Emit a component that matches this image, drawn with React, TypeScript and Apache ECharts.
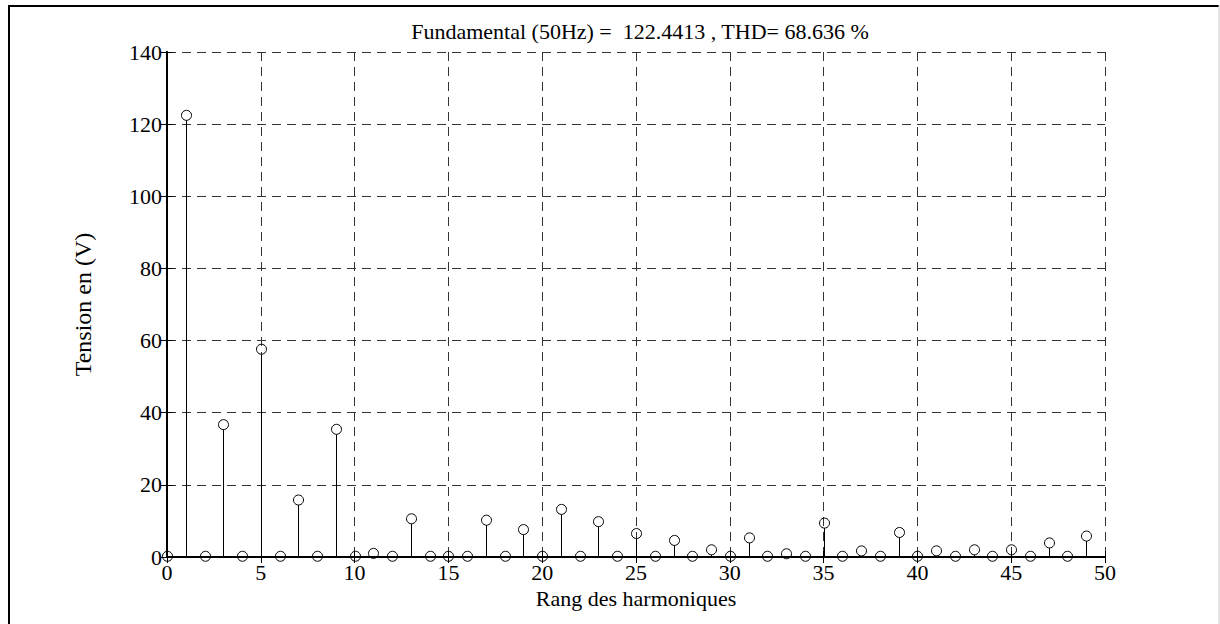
import React, { useEffect, useRef } from "react";
import * as echarts from "echarts";

const harmonicOrders: number[] = Array.from({ length: 50 }, (_, i) => i);
const amplitudes: number[] = [
  0.2, 122.44, 0.2, 36.7, 0.2, 57.6, 0.2, 15.8, 0.2, 35.4,
  0.2, 1.0, 0.2, 10.6, 0.2, 0.2, 0.2, 10.2, 0.2, 7.6,
  0.2, 13.2, 0.2, 9.8, 0.2, 6.5, 0.2, 4.6, 0.2, 2.0,
  0.2, 5.3, 0.2, 0.9, 0.2, 9.4, 0.2, 1.7, 0.2, 6.8,
  0.2, 1.7, 0.2, 2.0, 0.2, 2.0, 0.2, 3.9, 0.2, 5.8,
];
const titleText = "Fundamental (50Hz) =  122.4413 , THD= 68.636 %";
const xName = "Rang des harmoniques";
const yName = "Tension en (V)";

const FONT = "'Liberation Serif', 'Times New Roman', serif";

export default function App() {
  const ref = useRef<HTMLDivElement>(null);
  useEffect(() => {
    if (!ref.current) return;
    const chart = echarts.init(ref.current, undefined, { renderer: "svg" });
    const data = harmonicOrders.map((n, i) => [n, amplitudes[i]]);
    const gridLine = { show: true, lineStyle: { color: "#333", width: 1, type: [9, 6] as any } };
    chart.setOption({
      animation: false,
      backgroundColor: "#fff",
      title: {
        text: titleText,
        left: 635,
        textAlign: "center",
        top: 15,
        textStyle: { fontFamily: FONT, fontSize: 22, fontWeight: "normal", color: "#000" },
      },
      grid: { left: 167, right: 115, top: 52, bottom: 67, containLabel: false },
      xAxis: [
        {
          type: "value",
          min: 0,
          max: 50,
          interval: 5,
          name: xName,
          nameLocation: "middle",
          nameGap: 21,
          nameTextStyle: { fontFamily: FONT, fontSize: 22, color: "#000" },
          axisLine: { show: true, onZero: false, lineStyle: { color: "#000", width: 2 } },
          axisTick: { show: true, inside: true, length: 6, lineStyle: { color: "#000" } },
          axisLabel: { fontFamily: FONT, fontSize: 22, color: "#000", margin: 4 },
          splitLine: gridLine,
        },
        {
          type: "value",
          position: "top",
          min: 0,
          max: 50,
          interval: 5,
          axisLine: { show: true, lineStyle: { color: "#000", width: 1.5 } },
          axisTick: { show: true, inside: true, length: 6, lineStyle: { color: "#000" } },
          axisLabel: { show: false },
          splitLine: { show: false },
        },
      ],
      yAxis: [
        {
          type: "value",
          min: 0,
          max: 140,
          interval: 20,
          name: yName,
          nameLocation: "middle",
          nameGap: 72,
          nameRotate: 90,
          nameTextStyle: { fontFamily: FONT, fontSize: 24, color: "#000" },
          axisLine: { show: true, onZero: false, lineStyle: { color: "#000", width: 2 } },
          axisTick: { show: true, inside: true, length: 6, lineStyle: { color: "#000" } },
          axisLabel: { fontFamily: FONT, fontSize: 22, color: "#000", margin: 5 },
          splitLine: gridLine,
        },
        {
          type: "value",
          position: "right",
          min: 0,
          max: 140,
          interval: 20,
          axisLine: { show: true, lineStyle: { color: "#000", width: 2 } },
          axisTick: { show: true, inside: true, length: 6, lineStyle: { color: "#000" } },
          axisLabel: { show: false },
          splitLine: { show: false },
        },
      ],
      graphic: [
        { type: "line", shape: { x1: 9, y1: 5, x2: 9, y2: 624 }, style: { stroke: "#000", lineWidth: 2 } },
        { type: "line", shape: { x1: 8, y1: 6, x2: 1219, y2: 6 }, style: { stroke: "#000", lineWidth: 2 } },
        { type: "line", shape: { x1: 1219, y1: 5, x2: 1219, y2: 624 }, style: { stroke: "#ccc", lineWidth: 1 } },
      ],
      series: [
        {
          type: "custom",
          xAxisIndex: 0,
          yAxisIndex: 0,
          data,
          clip: false,
          renderItem: (params: any, api: any) => {
            const x = api.value(0);
            const y = api.value(1);
            const p = api.coord([x, y]);
            const b = api.coord([x, 0]);
            const r = 5;
            const px = Math.round(p[0]) + 0.5;
            const children: any[] = [];
            if (p[1] + r < b[1]) {
              children.push({
                type: "line",
                shape: { x1: px, y1: b[1], x2: px, y2: p[1] + r },
                style: { stroke: "#000", lineWidth: 1 },
              });
            }
            children.push({
              type: "circle",
              shape: { cx: px, cy: p[1], r },
              style: { fill: "none", stroke: "#000", lineWidth: 1 },
            });
            return { type: "group", children };
          },
        },
      ],
    });
    return () => chart.dispose();
  }, []);
  return (
    <div
      ref={ref}
      style={{ position: "fixed", left: 0, top: 0, width: 1220, height: 624, background: "#fff" }}
    />
  );
}
